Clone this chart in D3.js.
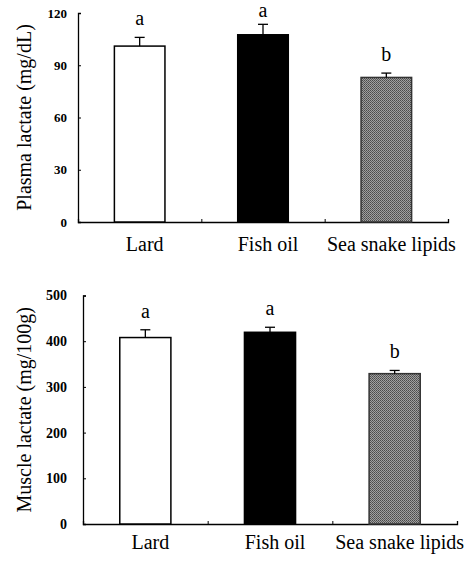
<!DOCTYPE html>
<html lang="en">
<head>
    <meta charset="UTF-8">
    <title>Plasma and muscle lactate</title>
    <script src="https://d3js.org/d3.v7.min.js"></script>
    <style>
        body { margin: 0; background: white; }
        text { font-family: "Liberation Serif", "Times New Roman", serif; fill: black; }
    </style>
</head>
<body>
    <div id="plot"></div>
    <script>
        // groups shown on both panels
        const categories = ["Lard", "Fish oil", "Sea snake lipids"];

        // plasma lactate (mg/dL)
        const plasmaMean = [101, 107.5, 83];
        const plasmaSE = [5, 6, 2.5];
        const plasmaLetters = ["a", "a", "b"];
        const plasmaTicks = [0, 30, 60, 90, 120];

        // muscle lactate (mg/100g)
        const muscleMean = [408, 419.5, 329];
        const muscleSE = [17, 11, 7];
        const muscleLetters = ["a", "a", "b"];
        const muscleTicks = [0, 100, 200, 300, 400, 500];

        const fills = ["white", "black", "url(#dots)"];

        const width = 472;
        const height = 561;

        const svg = d3.select("#plot")
            .append("svg")
            .attr("width", width)
            .attr("height", height);

        // dithered gray fill for the third bar
        const pat = svg.append("defs").append("pattern")
            .attr("id", "dots")
            .attr("patternUnits", "userSpaceOnUse")
            .attr("width", 2)
            .attr("height", 2);
        pat.append("rect").attr("width", 2).attr("height", 2).attr("fill", "#a0a0a0");
        pat.append("rect").attr("width", 1).attr("height", 1).attr("fill", "#4a4a4a");
        pat.append("rect").attr("x", 1).attr("y", 1).attr("width", 1).attr("height", 1).attr("fill", "#5c5c5c");

        function panel(opt) {
            const g = svg.append("g");

            const y = d3.scaleLinear()
                .domain([0, opt.ticks[opt.ticks.length - 1]])
                .range([opt.bottom, opt.top]);

            const x = d3.scaleBand()
                .domain(categories)
                .range([opt.left, opt.right]);

            const xb = d3.scaleLinear()
                .domain([0, categories.length])
                .range([opt.left, opt.right]);

            const barW = x.bandwidth() * 0.41;

            // y axis
            const yAxis = g.append("g")
                .attr("transform", `translate(${opt.left},0)`)
                .call(d3.axisLeft(y)
                    .tickValues(opt.ticks)
                    .tickSize(-3)
                    .tickPadding(opt.tickPad));
            yAxis.select(".domain").attr("stroke-width", 1.3);
            yAxis.selectAll("text")
                .attr("font-family", "Liberation Serif, serif")
                .attr("font-size", opt.tickFont)
                .attr("font-weight", "bold")
                .attr("fill", "black");

            // x axis with small ticks between groups
            const xAxis = g.append("g")
                .attr("transform", `translate(0,${opt.bottom})`)
                .call(d3.axisBottom(xb)
                    .tickValues([1, 2, 3])
                    .tickSize(-3)
                    .tickFormat(""));
            xAxis.select(".domain").attr("stroke-width", 1.3);

            // bars
            g.selectAll(".bar")
                .data(categories)
                .enter()
                .append("rect")
                .attr("x", d => x(d) + (x.bandwidth() - barW) / 2)
                .attr("y", (d, i) => y(opt.mean[i]))
                .attr("width", barW)
                .attr("height", (d, i) => y(0) - y(opt.mean[i]))
                .attr("fill", (d, i) => fills[i])
                .attr("stroke", (d, i) => i === 2 ? "#333" : "black")
                .attr("stroke-width", 1.5);

            // error bars (upper only)
            categories.forEach((c, i) => {
                const cx = x(c) + x.bandwidth() / 2;
                const yTop = y(opt.mean[i] + opt.se[i]);
                g.append("line")
                    .attr("x1", cx).attr("x2", cx)
                    .attr("y1", y(opt.mean[i]))
                    .attr("y2", yTop)
                    .attr("stroke", "black")
                    .attr("stroke-width", 1.3);
                g.append("line")
                    .attr("x1", cx - 5).attr("x2", cx + 5)
                    .attr("y1", yTop)
                    .attr("y2", yTop)
                    .attr("stroke", "black")
                    .attr("stroke-width", 1.3);

                // significance letter (kept inside the page at the top)
                g.append("text")
                    .attr("x", cx)
                    .attr("y", Math.max(yTop - 12, 17))
                    .attr("text-anchor", "middle")
                    .attr("font-size", "20px")
                    .text(opt.letters[i]);

                // category label
                g.append("text")
                    .attr("x", cx + 5)
                    .attr("y", opt.bottom + opt.labelOff)
                    .attr("text-anchor", "middle")
                    .attr("font-size", "20px")
                    .text(c);
            });

            // y axis title
            g.append("text")
                .attr("transform", `translate(31,${(opt.top + opt.bottom) / 2}) rotate(-90)`)
                .attr("text-anchor", "middle")
                .attr("font-size", "20px")
                .text(opt.title);
        }

        panel({
            left: 78, right: 448, top: 13, bottom: 222,
            ticks: plasmaTicks, mean: plasmaMean, se: plasmaSE, letters: plasmaLetters,
            tickPad: 11, tickFont: "13px", labelOff: 29,
            title: "Plasma lactate (mg/dL)"
        });

        panel({
            left: 83, right: 457, top: 295.5, bottom: 524,
            ticks: muscleTicks, mean: muscleMean, se: muscleSE, letters: muscleLetters,
            tickPad: 16, tickFont: "14px", labelOff: 25,
            title: "Muscle lactate (mg/100g)"
        });
    </script>
</body>
</html>
